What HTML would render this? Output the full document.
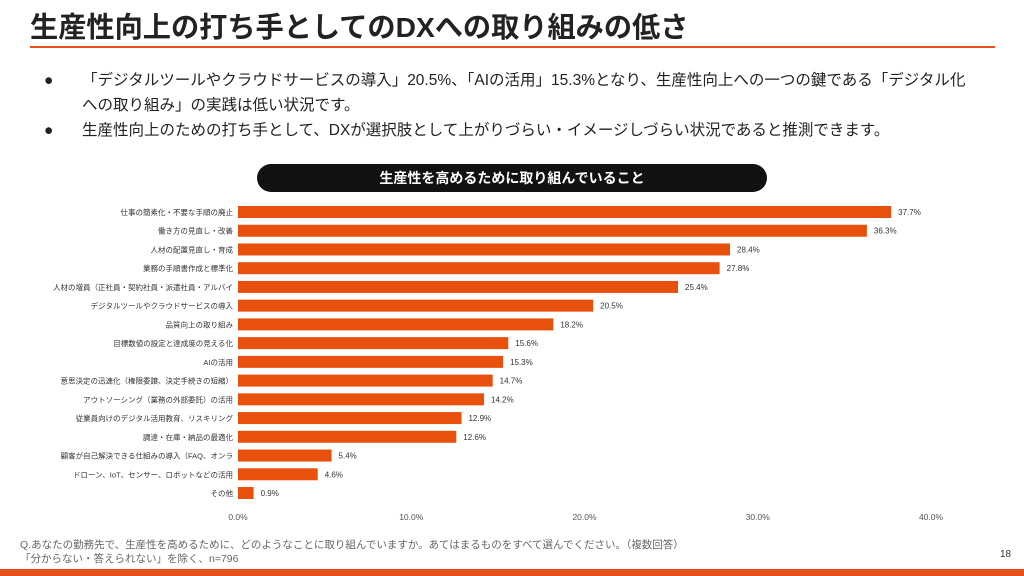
<!DOCTYPE html>
<html><head><meta charset="utf-8">
<style>
body{margin:0;width:1024px;height:576px;background:#fff;font-family:"Liberation Sans","Noto Sans CJK JP",sans-serif;position:relative;overflow:hidden;color:#222}
.abs{position:absolute}
</style></head><body>
<div class="abs" style="left:30px;top:5px;font-size:28.2px;font-weight:bold;color:#222;white-space:nowrap">生産性向上の打ち手としてのDXへの取り組みの低さ</div>
<div class="abs" style="left:30px;top:46px;width:965px;height:2px;background:#e8501a"></div>
<div class="abs" style="left:44px;top:68px;width:950px;font-size:15.5px;line-height:25px">
<span style="position:absolute;left:0">●</span><div style="margin-left:38px">「デジタルツールやクラウドサービスの導入」20.5%、「AIの活用」15.3%となり、生産性向上への一つの鍵である「デジタル化<br>への取り組み」の実践は低い状況です。</div></div>
<div class="abs" style="left:44px;top:118px;width:950px;font-size:15.5px;line-height:25px">
<span style="position:absolute;left:0">●</span><div style="margin-left:38px">生産性向上のための打ち手として、DXが選択肢として上がりづらい・イメージしづらい状況であると推測できます。</div></div>
<div class="abs" style="left:257px;top:164px;width:510px;height:28px;border-radius:14px;background:#111;color:#fff;font-size:14px;font-weight:bold;text-align:center;line-height:28px">生産性を高めるために取り組んでいること</div>
<svg class="abs" style="left:0;top:0" width="1024" height="576" id="chart"></svg>
<div class="abs" style="left:20px;top:538px;font-size:10.5px;color:#666;line-height:14px">Q.あなたの勤務先で、生産性を高めるために、どのようなことに取り組んでいますか。あてはまるものをすべて選んでください。（複数回答）<br>「分からない・答えられない」を除く、n=796</div>
<div class="abs" style="left:1000px;top:549px;font-size:10px;color:#333">18</div>
<div class="abs" style="left:0;top:569px;width:1024px;height:7px;background:#e8501a"></div>
<script>
const categories=["仕事の簡素化・不要な手順の廃止","働き方の見直し・改善","人材の配置見直し・育成","業務の手順書作成と標準化","人材の増員（正社員・契約社員・派遣社員・アルバイ","デジタルツールやクラウドサービスの導入","品質向上の取り組み","目標数値の設定と達成度の見える化","AIの活用","意思決定の迅速化（権限委譲、決定手続きの短縮）","アウトソーシング（業務の外部委託）の活用","従業員向けのデジタル活用教育、リスキリング","調達・在庫・納品の最適化","顧客が自己解決できる仕組みの導入（FAQ、オンラ","ドローン、IoT、センサー、ロボットなどの活用","その他"];
const values=[37.7,36.3,28.4,27.8,25.4,20.5,18.2,15.6,15.3,14.7,14.2,12.9,12.6,5.4,4.6,0.9];
const ticks=[0,10,20,30,40];
const svg=document.getElementById('chart');const NS='http://www.w3.org/2000/svg';
const x=v=>238+v*(931-238)/40;
const y=i=>212+i*(493-212)/(categories.length-1);
function mk(t,a){const e=document.createElementNS(NS,t);for(const k in a)e.setAttribute(k,a[k]);svg.appendChild(e);return e;}
ticks.forEach(t=>{const e=mk('text',{x:x(t),y:520,'font-size':8.5,fill:'#555','text-anchor':'middle'});e.textContent=t.toFixed(1)+'%';

});
categories.forEach((c,i)=>{
const r=mk('rect',{x:x(0),y:y(i)-6,width:x(values[i])-x(0),height:12,fill:'#e8500e'});


const l=mk('text',{x:233,y:y(i)+3,'font-size':7.5,fill:'#333','text-anchor':'end'});l.textContent=c;


const v=mk('text',{x:x(values[i])+7,y:y(i)+3,'font-size':8,fill:'#333'});v.textContent=values[i].toFixed(1)+'%';


});
</script>
</body></html>
